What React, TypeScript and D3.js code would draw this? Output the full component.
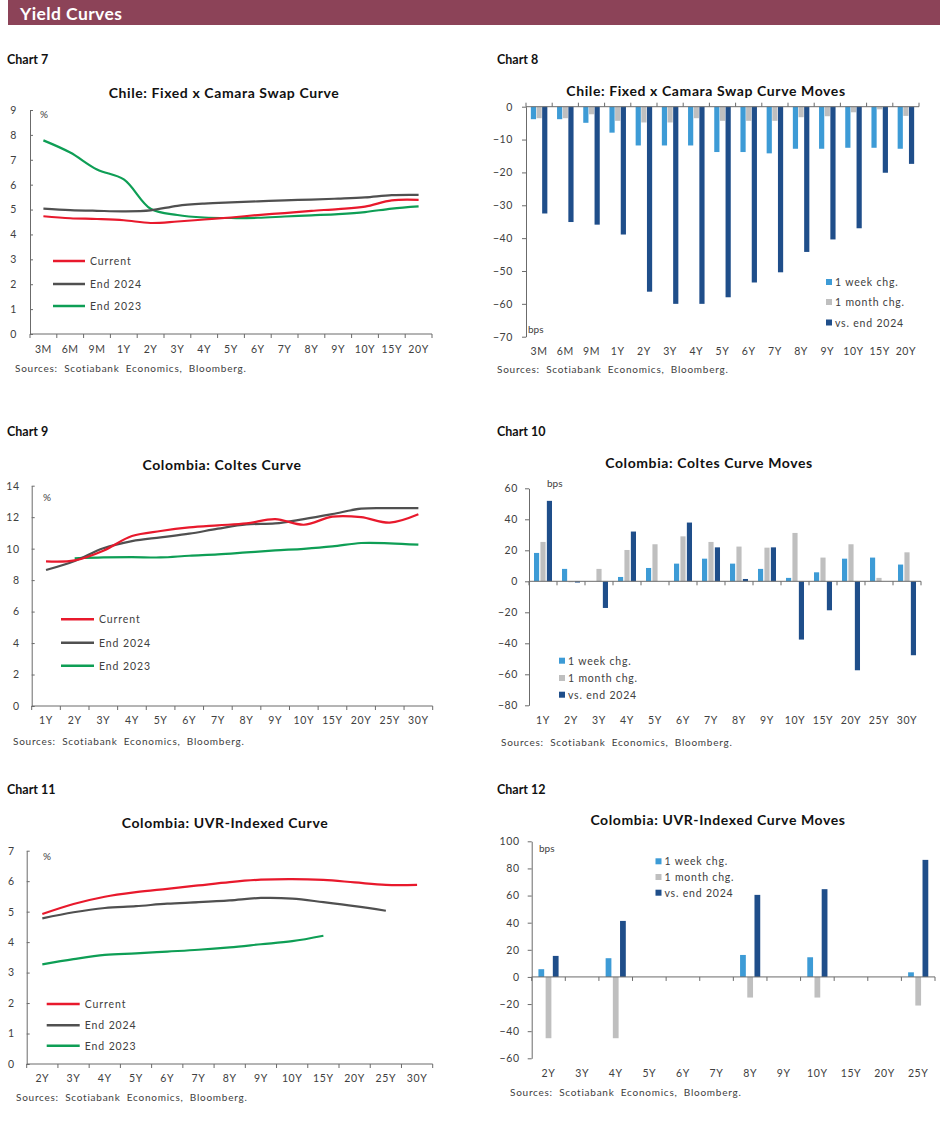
import { useEffect, useRef } from 'react';
import * as d3 from 'd3';

// Chart 7 – Chile swap curve (%)
const chileTenors = ['3M', '6M', '9M', '1Y', '2Y', '3Y', '4Y', '5Y', '6Y', '7Y', '8Y', '9Y', '10Y', '15Y', '20Y'];
const chileCurrent = [4.73, 4.65, 4.62, 4.57, 4.46, 4.52, 4.6, 4.68, 4.78, 4.86, 4.95, 5.02, 5.12, 5.37, 5.39];
const chileEnd2024 = [5.04, 4.98, 4.95, 4.93, 4.97, 5.15, 5.24, 5.29, 5.33, 5.37, 5.4, 5.44, 5.49, 5.58, 5.59];
const chileEnd2023 = [7.78, 7.29, 6.61, 6.21, 5.03, 4.78, 4.68, 4.66, 4.67, 4.72, 4.77, 4.82, 4.9, 5.04, 5.13];

// Chart 8 – Chile swap curve moves (bps)
const chileWeek = [-3.8, -3.8, -4.9, -7.9, -11.8, -11.8, -11.8, -13.8, -13.8, -14.2, -12.8, -12.8, -12.5, -12.5, -12.8];
const chileMonth = [-3.5, -3.5, -2.3, -4.3, -4.8, -4.8, -3.5, -4.3, -4.3, -4.3, -3.2, -2.9, -1.7, -0.8, -2.8];
const chileYtd = [-32.5, -35.1, -35.9, -38.9, -56.3, -60, -60, -58, -53.5, -50.4, -44.2, -40.4, -37, -20.1, -17.4];

// Chart 9 – Colombia Coltes curve (%)
const coltesTenors = ['1Y', '2Y', '3Y', '4Y', '5Y', '6Y', '7Y', '8Y', '9Y', '10Y', '15Y', '20Y', '25Y', '30Y'];
const coltesCurrent = [9.19, 9.25, 9.87, 10.8, 11.12, 11.35, 11.48, 11.6, 11.88, 11.52, 12.03, 12.0, 11.65, 12.18];
const coltesEnd2024 = [8.64, 9.22, 10.02, 10.48, 10.72, 10.95, 11.27, 11.54, 11.6, 11.88, 12.2, 12.54, 12.57, 12.57];
const coltesEnd2023 = [null, 9.38, 9.44, 9.46, 9.44, 9.55, 9.63, 9.76, 9.89, 9.99, 10.14, 10.36, 10.34, 10.25];

// Chart 10 – Coltes curve moves (bps)
const coltesWeek = [18.3, 8.0, null, 2.8, 8.6, 11.4, 14.6, 11.4, 8.0, 2.2, 5.8, 14.6, 15.3, 10.8];
const coltesMonth = [25.4, -0.6, 8.0, 20.2, 23.9, 29.0, 25.4, 22.4, 21.7, 31.2, 15.3, 23.9, 2.2, 18.7];
const coltesYtd = [51.9, -0.8, -17.2, 32.1, null, 37.9, 21.9, 1.5, 21.9, -37.6, -18.7, -57.4, null, -47.7];

// Chart 11 – Colombia UVR-indexed curve (%)
const uvrTenors = ['2Y', '3Y', '4Y', '5Y', '6Y', '7Y', '8Y', '9Y', '10Y', '15Y', '20Y', '25Y', '30Y'];
const uvrCurrent = [4.92, 5.25, 5.49, 5.64, 5.75, 5.86, 5.97, 6.05, 6.07, 6.04, 5.96, 5.88, 5.88];
const uvrEnd2024 = [4.78, 4.98, 5.12, 5.18, 5.26, 5.31, 5.37, 5.45, 5.43, 5.31, 5.18, 5.03, null];
const uvrEnd2023 = [3.27, 3.44, 3.58, 3.63, 3.69, 3.75, 3.83, 3.93, 4.03, 4.21, null, null, null];

// Chart 12 – UVR curve moves (bps)
const uvrMoveTenors = ['2Y', '3Y', '4Y', '5Y', '6Y', '7Y', '8Y', '9Y', '10Y', '15Y', '20Y', '25Y'];
const uvrWeek = [5.7, null, 13.8, null, null, null, 16.2, null, 14.5, null, null, 3.4];
const uvrMonth = [-45.2, null, -45.2, null, null, null, -15.2, null, -15.2, null, null, -21.1];
const uvrYtd = [15.5, null, 41.3, null, null, null, 60.5, null, 64.7, null, null, 86.3];

const lineLegend = ['Current', 'End 2024', 'End 2023'];
const barLegend = ['1 week chg.', '1 month chg.', 'vs. end 2024'];

const RED = '#E8192C';
const GREY = '#505050';
const GREEN = '#0E9E55';
const WEEK = '#3D9BD6';
const MONTH = '#BFBFBF';
const YTD = '#1F4E8A';
const AXIS = '#6b6b6b';
const TXT = '#404040';
const FONT = 'Lato, "Open Sans", sans-serif';

type Sel = d3.Selection<SVGSVGElement, unknown, null, undefined>;

interface LinePanel {
  label: string; labelX: number; labelY: number;
  title: string; titleX: number; titleY: number;
  tenors: string[]; series: (number | null)[][];
  left: number; right: number; top: number; bottom: number;
  yMax: number; yStep: number; gap: number; xLabelY: number;
  unitX: number; unitY: number;
  legX: number; legW: number; legY: number[];
  srcX: number; srcY: number;
}

interface BarPanel {
  label: string; labelX: number; labelY: number;
  title: string; titleX: number; titleY: number;
  tenors: string[]; series: (number | null)[][];
  left: number; right: number; top: number; bottom: number;
  yMin: number; yMax: number; yStep: number; gap: number; xLabelY: number;
  pad: number; innerPad: number; ticksUp: boolean;
  unitX: number; unitY: number;
  legX: number; legY: number[];
  srcX: number; srcY: number;
}

function header(svg: Sel, p: { label: string; labelX: number; labelY: number; title: string; titleX: number; titleY: number; srcX: number; srcY: number }) {
  svg.append('text').attr('x', p.labelX).attr('y', p.labelY).attr('dominant-baseline', 'central')
    .style('font-family', FONT).style('font-size', '12.5px').style('font-weight', 700).style('fill', '#111').text(p.label);
  svg.append('text').attr('x', p.titleX).attr('y', p.titleY).attr('dominant-baseline', 'central').attr('text-anchor', 'middle')
    .style('font-family', FONT).style('font-size', '14px').style('font-weight', 700).style('fill', '#111')
    .style('letter-spacing', '0.6px').text(p.title);
  svg.append('text').attr('x', p.srcX).attr('y', p.srcY).attr('dominant-baseline', 'central')
    .style('font-family', FONT).style('font-size', '10px').style('fill', TXT).style('word-spacing', '3px').style('letter-spacing', '0.75px')
    .text('Sources:  Scotiabank  Economics,  Bloomberg.');
}

function yAxis(svg: Sel, y: d3.ScaleLinear<number, number>, left: number, ticks: number[], gap: number, inward: boolean) {
  const g = svg.append('g').attr('transform', `translate(${left},0)`)
    .call(d3.axisLeft(y).tickValues(ticks).tickSizeInner(inward ? -3 : 4).tickSizeOuter(0).tickPadding(inward ? gap : gap - 4).tickFormat(d3.format('d')));
  g.select('.domain').attr('stroke', AXIS);
  g.selectAll('line').attr('stroke', AXIS);
  g.selectAll('text').style('font-family', FONT).style('font-size', '10.5px').style('fill', TXT).style('letter-spacing', '0.6px');
}

function xAxis(svg: Sel, x: d3.ScaleBand<string>, yPos: number, labelY: number, up: boolean) {
  const [a, b] = x.range();
  svg.append('line').attr('x1', a).attr('x2', b).attr('y1', yPos).attr('y2', yPos).attr('stroke', AXIS);
  const n = x.domain().length;
  const step = (b - a) / n;
  svg.append('g').selectAll('line').data(d3.range(n + 1)).join('line')
    .attr('x1', (i) => a + i * step).attr('x2', (i) => a + i * step)
    .attr('y1', yPos).attr('y2', yPos + (up ? -4 : 4)).attr('stroke', AXIS);
  svg.append('g').selectAll('text').data(x.domain()).join('text')
    .attr('x', (d) => a + (x.domain().indexOf(d) + 0.5) * step).attr('y', labelY)
    .attr('text-anchor', 'middle').attr('dominant-baseline', 'central')
    .style('font-family', FONT).style('font-size', '10.5px').style('fill', TXT).style('letter-spacing', '0.6px')
    .text((d) => d);
}

function unit(svg: Sel, x: number, y: number, t: string) {
  svg.append('text').attr('x', x).attr('y', y).attr('dominant-baseline', 'central')
    .style('font-family', FONT).style('font-size', '10px').style('fill', TXT).text(t);
}

function drawLine(svg: Sel, p: LinePanel) {
  header(svg, p);
  const x = d3.scaleBand().domain(p.tenors).range([p.left, p.right]);
  const y = d3.scaleLinear().domain([0, p.yMax]).range([p.bottom, p.top]);
  yAxis(svg, y, p.left, d3.range(0, p.yMax + 0.01, p.yStep), p.gap, true);
  xAxis(svg, x, p.bottom, p.xLabelY, false);
  unit(svg, p.unitX, p.unitY, '%');

  const colors = [RED, GREY, GREEN];
  const order = [2, 1, 0];
  order.forEach((k) => {
    const line = d3.line<number | null>()
      .defined((d) => d !== null)
      .x((_, i) => (x(p.tenors[i]) ?? 0) + x.bandwidth() / 2)
      .y((d) => y(d as number))
      .curve(d3.curveCatmullRom.alpha(0.5));
    svg.append('path').datum(p.series[k]).attr('fill', 'none').attr('stroke', colors[k])
      .attr('stroke-width', 2.2).attr('stroke-linejoin', 'round').attr('d', line);
  });

  lineLegend.forEach((name, i) => {
    svg.append('line').attr('x1', p.legX).attr('x2', p.legX + p.legW).attr('y1', p.legY[i]).attr('y2', p.legY[i])
      .attr('stroke', colors[i]).attr('stroke-width', 2.5);
    svg.append('text').attr('x', p.legX + p.legW + 5).attr('y', p.legY[i]).attr('dominant-baseline', 'central')
      .style('font-family', FONT).style('font-size', '10.5px').style('fill', TXT).style('letter-spacing', '0.9px').text(name);
  });
}

function drawBars(svg: Sel, p: BarPanel) {
  header(svg, p);
  const x0 = d3.scaleBand().domain(p.tenors).range([p.left, p.right]).paddingInner(p.pad).paddingOuter(p.pad / 2);
  const x1 = d3.scaleBand().domain(['0', '1', '2']).range([0, x0.bandwidth()]).paddingInner(p.innerPad);
  const y = d3.scaleLinear().domain([p.yMin, p.yMax]).range([p.bottom, p.top]);
  const colors = [WEEK, MONTH, YTD];

  yAxis(svg, y, p.left, d3.range(p.yMin, p.yMax + 0.01, p.yStep), p.gap, false);

  p.series.forEach((vals, k) => {
    svg.append('g').selectAll('rect')
      .data(vals.map((v, i) => ({ v, t: p.tenors[i] })).filter((d) => d.v !== null && d.v !== 0))
      .join('rect')
      .attr('x', (d) => (x0(d.t) ?? 0) + (x1(String(k)) ?? 0))
      .attr('width', x1.bandwidth())
      .attr('y', (d) => Math.min(y(d.v as number), y(0)))
      .attr('height', (d) => Math.abs(y(d.v as number) - y(0)))
      .attr('fill', colors[k]);
  });

  xAxis(svg, x0, y(0), p.xLabelY, p.ticksUp);
  unit(svg, p.unitX, p.unitY, 'bps');

  barLegend.forEach((name, i) => {
    svg.append('rect').attr('x', p.legX).attr('y', p.legY[i] - 3).attr('width', 6).attr('height', 6).attr('fill', colors[i]);
    svg.append('text').attr('x', p.legX + 9).attr('y', p.legY[i]).attr('dominant-baseline', 'central')
      .style('font-family', FONT).style('font-size', '10.5px').style('fill', TXT).style('letter-spacing', '0.8px').text(name);
  });
}

export default function App() {
  const svgRef = useRef<SVGSVGElement>(null);

  useEffect(() => {
    if (!svgRef.current) return;
    const svg = d3.select(svgRef.current) as Sel;
    svg.selectAll('*').remove();

    svg.append('rect').attr('width', 940).attr('height', 1131).attr('fill', '#fff');

    // page banner
    svg.append('rect').attr('x', 8).attr('y', 0).attr('width', 932).attr('height', 25).attr('fill', '#8C4358');
    svg.append('text').attr('x', 20).attr('y', 13).attr('dominant-baseline', 'central')
      .style('font-family', FONT).style('font-size', '17.5px').style('font-weight', 700).style('fill', '#fff')
      .style('letter-spacing', '0.4px').text('Yield Curves');

    drawLine(svg, {
      label: 'Chart 7', labelX: 7, labelY: 59,
      title: 'Chile: Fixed x Camara Swap Curve', titleX: 224, titleY: 92,
      tenors: chileTenors, series: [chileCurrent, chileEnd2024, chileEnd2023],
      left: 30, right: 432, top: 110, bottom: 334, yMax: 9, yStep: 1, gap: 13, xLabelY: 349,
      unitX: 40, unitY: 114, legX: 53, legW: 32, legY: [261, 284, 306], srcX: 15, srcY: 368,
    });

    drawBars(svg, {
      label: 'Chart 8', labelX: 497, labelY: 59,
      title: 'Chile: Fixed x Camara Swap Curve Moves', titleX: 706, titleY: 90,
      tenors: chileTenors, series: [chileWeek, chileMonth, chileYtd],
      left: 526, right: 919, top: 106.7, bottom: 336.7, yMin: -70, yMax: 0, yStep: 10, gap: 13, xLabelY: 351,
      pad: 0.37, innerPad: 0.08, ticksUp: true,
      unitX: 528, unitY: 329, legX: 826, legY: [282, 302, 322.5], srcX: 497, srcY: 369,
    });

    drawLine(svg, {
      label: 'Chart 9', labelX: 7, labelY: 431,
      title: 'Colombia: Coltes Curve', titleX: 222, titleY: 464,
      tenors: coltesTenors, series: [coltesCurrent, coltesEnd2024, coltesEnd2023],
      left: 31.7, right: 432.7, top: 485.7, bottom: 706, yMax: 14, yStep: 2, gap: 12, xLabelY: 720,
      unitX: 43, unitY: 497, legX: 61, legW: 33, legY: [619.3, 642.7, 665.7], srcX: 13, srcY: 741,
    });

    drawBars(svg, {
      label: 'Chart 10', labelX: 497, labelY: 431,
      title: 'Colombia: Coltes Curve Moves', titleX: 709, titleY: 462,
      tenors: coltesTenors, series: [coltesWeek, coltesMonth, coltesYtd],
      left: 529, right: 921, top: 488.3, bottom: 705.3, yMin: -80, yMax: 60, yStep: 20, gap: 11, xLabelY: 720,
      pad: 0.357, innerPad: 0.2, ticksUp: false,
      unitX: 547, unitY: 482.7, legX: 559, legY: [660.7, 678, 694.7], srcX: 501, srcY: 742,
    });

    drawLine(svg, {
      label: 'Chart 11', labelX: 7, labelY: 789,
      title: 'Colombia: UVR-Indexed  Curve', titleX: 225, titleY: 822,
      tenors: uvrTenors, series: [uvrCurrent, uvrEnd2024, uvrEnd2023],
      left: 26.7, right: 432.7, top: 850.7, bottom: 1064, yMax: 7, yStep: 1, gap: 12, xLabelY: 1078,
      unitX: 43, unitY: 856, legX: 46.7, legW: 33, legY: [1004, 1025.3, 1045.7], srcX: 16, srcY: 1097,
    });

    drawBars(svg, {
      label: 'Chart 12', labelX: 497, labelY: 789,
      title: 'Colombia: UVR-Indexed  Curve Moves', titleX: 718, titleY: 819,
      tenors: uvrMoveTenors, series: [uvrWeek, uvrMonth, uvrYtd],
      left: 531.7, right: 935, top: 841.3, bottom: 1058.3, yMin: -60, yMax: 100, yStep: 20, gap: 12, xLabelY: 1073,
      pad: 0.4, innerPad: 0.2, ticksUp: false,
      unitX: 539, unitY: 848.3, legX: 655.5, legY: [861.3, 877, 892.7], srcX: 510, srcY: 1092,
    });
  }, []);

  return (
    <svg
      ref={svgRef}
      width={940}
      height={1131}
      style={{ position: 'absolute', left: 0, top: 0, display: 'block' }}
    />
  );
}
